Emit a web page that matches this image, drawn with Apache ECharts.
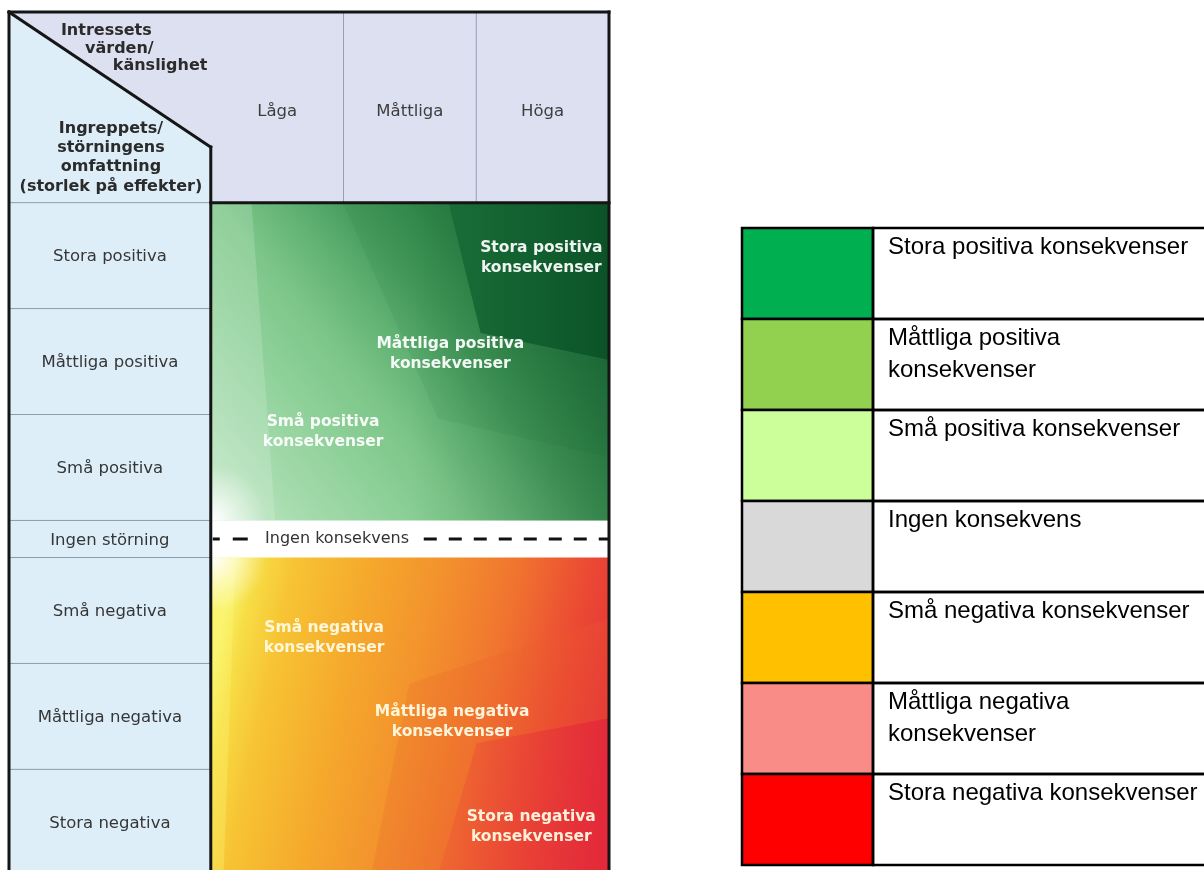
<!DOCTYPE html>
<html><head><meta charset="utf-8">
<script src="https://cdn.jsdelivr.net/npm/echarts/dist/echarts.min.js"></script>
<style>html,body{margin:0;padding:0;background:#fff}#c{width:1204px;height:870px}</style>
</head><body><div id="c"></div>
<script>
// ---- data ----
const columnLabels = ['Låga', 'Måttliga', 'Höga'];
const rowLabels = ['Stora positiva', 'Måttliga positiva', 'Små positiva', 'Ingen störning', 'Små negativa', 'Måttliga negativa', 'Stora negativa'];
const cornerTopLines = ['Intressets', 'värden/', 'känslighet'];
const cornerBottomLines = ['Ingreppets/', 'störningens', 'omfattning', '(storlek på effekter)'];
const zoneLabels = ['Stora positiva\nkonsekvenser', 'Måttliga positiva\nkonsekvenser', 'Små positiva\nkonsekvenser',
                    'Små negativa\nkonsekvenser', 'Måttliga negativa\nkonsekvenser', 'Stora negativa\nkonsekvenser'];
const neutralLabel = 'Ingen konsekvens';
const legendNames = ['Stora positiva konsekvenser', 'Måttliga positiva konsekvenser', 'Små positiva konsekvenser', 'Ingen konsekvens',
                     'Små negativa konsekvenser', 'Måttliga negativa konsekvenser', 'Stora negativa konsekvenser'];
const legendColors = ['#00b050', '#92d050', '#ccff99', '#d9d9d9', '#ffc000', '#f98c87', '#ff0000'];

// ---- layout (diagram units) ----
const LEFT = -1.52, HEADER = 1.8, INGEN = 0.35, YMAX = 8.1, DIAG = 1.275;
const zoneAnchors = [[2.49, 2.323], [1.805, 3.225], [0.846, 3.966], [0.854, 5.911], [1.818, 6.70], [2.414, 7.696]];
const cornerTopAnchors = [[-0.445, 0.18], [-0.43, 0.345], [-0.025, 0.51]];
const cornerBottomAnchors = [[-0.752, 1.105], [-0.752, 1.284], [-0.752, 1.464], [-0.752, 1.652]];
function rowTop(i) { return HEADER + (i <= 3 ? i : 3 + INGEN + (i - 4)); }
function rowBottom(i) { return rowTop(i) + (i === 3 ? INGEN : 1); }

const G = echarts.graphic;
const FONT = '"DejaVu Sans", Verdana, sans-serif';
const LFONT = '"Liberation Sans", Arial, sans-serif';

const mctx = document.createElement('canvas').getContext('2d');
function wrap(text, font, maxW) {
  mctx.font = font;
  const words = text.split(' ');
  const lines = []; let cur = '';
  words.forEach(w => {
    const t = cur ? cur + ' ' + w : w;
    if (cur && mctx.measureText(t).width > maxW) { lines.push(cur); cur = w; } else cur = t;
  });
  if (cur) lines.push(cur);
  return lines.join('\n');
}

function P(api, u, v) { return api.coord([u, v]); }

function renderBackground(params, api) {
  const a = P(api, LEFT, 0), b = P(api, 3, HEADER), d = P(api, 0, DIAG), e = P(api, 0, YMAX), f = P(api, LEFT, YMAX);
  return { type: 'group', children: [
    { type: 'rect', shape: { x: a[0], y: a[1], width: b[0] - a[0], height: b[1] - a[1] }, style: { fill: '#dde0f1' } },
    { type: 'polygon', shape: { points: [a, d, e, f] }, style: { fill: '#ddeef8' } }
  ]};
}

function renderPositive(params, api) {
  const a = P(api, 0, HEADER), b = P(api, 3, rowTop(3));
  const x0 = a[0] + 1, y0 = a[1], w = b[0] - x0, h = b[1] - y0;
  const F = (fx, fy) => [x0 + fx * w, y0 + fy * h];
  return { type: 'group', children: [
    { type: 'rect', shape: { x: x0, y: y0, width: w, height: h },
      style: { fill: new G.LinearGradient(0, 1, 1, 0, [
        { offset: 0, color: '#c4e8c8' }, { offset: 0.15, color: '#a5dbad' }, { offset: 0.3, color: '#8ccf97' },
        { offset: 0.4, color: '#7cc688' }, { offset: 0.5, color: '#62b374' }, { offset: 0.6, color: '#469c5c' },
        { offset: 0.7, color: '#33894b' }, { offset: 0.82, color: '#22753e' }, { offset: 1, color: '#135f2f' }]) } },
    { type: 'rect', shape: { x: x0, y: y0, width: w, height: h },
      style: { fill: new G.LinearGradient(0, 0, 1, 0, [
        { offset: 0, color: 'rgba(10,70,35,0)' }, { offset: 0.5, color: 'rgba(10,70,35,0)' },
        { offset: 1, color: 'rgba(10,70,35,0.28)' }]) } },
    { type: 'polygon', shape: { points: [F(0.33, 0), F(0.6, 0), F(0.68, 0.41), F(1, 0.5), F(1, 0.8), F(0.57, 0.68)] },
      style: { fill: 'rgba(15,80,40,0.07)' } },
    { type: 'polygon', shape: { points: [F(0.596, 0), F(0.677, 0.41), F(1, 0.495), F(1, 0)] },
      style: { fill: new G.LinearGradient(0, 0, 1, 0, [{ offset: 0, color: '#196d37' }, { offset: 1, color: '#0b5327' }]) } },
    { type: 'polygon', shape: { points: [F(0, 0), F(0.1, 0), F(0.16, 1), F(0, 1)] }, style: { fill: 'rgba(255,255,255,0.16)' } },
    { type: 'rect', shape: { x: x0, y: y0, width: w, height: h },
      style: { fill: new G.RadialGradient(x0, y0 + h, 55, [
        { offset: 0, color: 'rgba(255,255,255,1)' }, { offset: 0.45, color: 'rgba(255,255,255,0.5)' },
        { offset: 1, color: 'rgba(255,255,255,0)' }], true) } }
  ]};
}

function renderNegative(params, api) {
  const a = P(api, 0, rowTop(4)), b = P(api, 3, YMAX);
  const x0 = a[0] + 1, y0 = a[1], w = b[0] - x0, h = b[1] - y0;
  const F = (fx, fy) => [x0 + fx * w, y0 + fy * h];
  return { type: 'group', children: [
    { type: 'rect', shape: { x: x0, y: y0, width: w, height: h },
      style: { fill: new G.LinearGradient(0, 0.36, 1, 0.64, [
        { offset: 0, color: '#f8f36c' }, { offset: 0.05, color: '#f7de46' }, { offset: 0.14, color: '#f7c434' },
        { offset: 0.32, color: '#f5a92c' }, { offset: 0.5, color: '#f3922d' }, { offset: 0.68, color: '#f0742f' },
        { offset: 0.85, color: '#eb4a33' }, { offset: 1, color: '#e5303a' }]) } },
    { type: 'polygon', shape: { points: [F(0.497, 0.403), F(1, 0.195), F(1, 0.514), F(0.667, 0.594), F(0.573, 1), F(0.404, 1)] },
      style: { fill: 'rgba(236,95,45,0.2)' } },
    { type: 'polygon', shape: { points: [F(0.667, 0.594), F(1, 0.514), F(1, 1), F(0.573, 1)] },
      style: { fill: new G.LinearGradient(0, 0, 1, 0, [{ offset: 0, color: 'rgba(236,80,52,0.4)' }, { offset: 1, color: 'rgba(226,38,58,0.75)' }]) } },
    { type: 'polygon', shape: { points: [F(0, 0), F(0.06, 0), F(0.03, 1), F(0, 1)] }, style: { fill: 'rgba(255,250,120,0.3)' } },
    { type: 'rect', shape: { x: x0, y: y0, width: w, height: h },
      style: { fill: new G.RadialGradient(x0, y0, 55, [
        { offset: 0, color: 'rgba(255,255,255,1)' }, { offset: 0.5, color: 'rgba(255,255,255,0.45)' },
        { offset: 1, color: 'rgba(255,255,255,0)' }], true) } }
  ]};
}

function renderColumn(params, api) {
  const i = params.dataIndex;
  const children = [];
  if (i > 0) {
    const p0 = P(api, i, 0), p1 = P(api, i, HEADER);
    children.push({ type: 'line', shape: { x1: p0[0], y1: p0[1], x2: p1[0], y2: p1[1] }, style: { stroke: '#9b9db2', lineWidth: 1 } });
  }
  const c = P(api, i + 0.5, 0.94);
  children.push({ type: 'text', style: { text: columnLabels[i], x: c[0], y: c[1], align: 'center', verticalAlign: 'middle',
    font: '16.5px ' + FONT, fill: '#3d3d3d' } });
  return { type: 'group', children };
}

function renderRow(params, api) {
  const i = params.dataIndex;
  const p0 = P(api, LEFT, rowTop(i)), p1 = P(api, 0, rowTop(i));
  const c = P(api, LEFT / 2, (rowTop(i) + rowBottom(i)) / 2 + 0.015);
  return { type: 'group', children: [
    { type: 'line', shape: { x1: p0[0], y1: p0[1], x2: p1[0], y2: p1[1] }, style: { stroke: '#8e9caa', lineWidth: 1 } },
    { type: 'text', style: { text: rowLabels[i], x: c[0], y: c[1], align: 'center', verticalAlign: 'middle',
      font: '16.5px ' + FONT, fill: '#363636' } }
  ]};
}

function renderCorner(params, api) {
  const children = [];
  cornerTopLines.forEach((t, k) => {
    const p = P(api, cornerTopAnchors[k][0], cornerTopAnchors[k][1]);
    children.push({ type: 'text', style: { text: t, x: p[0], y: p[1], align: 'right', verticalAlign: 'middle',
      font: 'bold 16px ' + FONT, fill: '#2b2b2b' } });
  });
  cornerBottomLines.forEach((t, k) => {
    const p = P(api, cornerBottomAnchors[k][0], cornerBottomAnchors[k][1]);
    children.push({ type: 'text', style: { text: t, x: p[0], y: p[1], align: 'center', verticalAlign: 'middle',
      font: 'bold 16px ' + FONT, fill: '#2b2b2b' } });
  });
  return { type: 'group', children };
}

function renderZone(params, api) {
  const i = params.dataIndex;
  const p = P(api, zoneAnchors[i][0], zoneAnchors[i][1]);
  return { type: 'text', style: { text: zoneLabels[i], x: p[0], y: p[1], align: 'center', verticalAlign: 'middle',
    font: 'bold 15.5px ' + FONT, lineHeight: 20, fill: i < 3 ? 'rgba(255,255,255,0.93)' : 'rgba(255,250,225,0.95)' } };
}

function renderNeutral(params, api) {
  const y = (rowTop(3) + rowBottom(3)) / 2;
  const a = P(api, 0, y), b = P(api, 3, y);
  const tx = P(api, 0.409, y);
  return { type: 'group', children: [
    { type: 'line', shape: { x1: a[0] + 2, y1: a[1], x2: a[0] + 38, y2: a[1] },
      style: { stroke: '#111', lineWidth: 3, lineDash: [15, 13], lineDashOffset: 8 } },
    { type: 'line', shape: { x1: a[0] + 213, y1: a[1], x2: b[0], y2: b[1] },
      style: { stroke: '#111', lineWidth: 3, lineDash: [13, 12] } },
    { type: 'text', style: { text: neutralLabel, x: tx[0], y: tx[1], align: 'left', verticalAlign: 'middle',
      font: '16px ' + FONT, fill: '#333' } }
  ]};
}

function renderFrame(params, api) {
  const segs = [
    [[LEFT, 0], [LEFT, YMAX]], [[LEFT, 0], [3, 0]], [[3, 0], [3, YMAX]],
    [[LEFT, 0], [0, DIAG]], [[0, DIAG], [0, YMAX]], [[0, HEADER], [3, HEADER]]
  ];
  return { type: 'group', children: segs.map(s => {
    const p0 = P(api, s[0][0], s[0][1]), p1 = P(api, s[1][0], s[1][1]);
    return { type: 'line', shape: { x1: p0[0], y1: p0[1], x2: p1[0], y2: p1[1] }, style: { stroke: '#151515', lineWidth: 3, lineCap: 'square' } };
  })};
}

function renderLegend(params, api) {
  const i = params.dataIndex;
  const c = api.coord([0, i]);
  const h = api.size([0, 1])[1];
  const top = c[1] - h / 2, x0 = c[0];
  const cw = 131;
  const font = '24px ' + LFONT;
  return { type: 'group', children: [
    { type: 'rect', shape: { x: x0, y: top, width: cw, height: h }, style: { fill: legendColors[i], stroke: '#000', lineWidth: 2.5 } },
    { type: 'rect', shape: { x: x0 + cw, y: top, width: 600, height: h }, style: { fill: 'none', stroke: '#000', lineWidth: 2.5 } },
    { type: 'text', style: { text: wrap(legendNames[i], font, 318), x: x0 + cw + 15, y: top + 3, align: 'left', verticalAlign: 'top',
      font: font, lineHeight: 32, fill: '#000' } }
  ]};
}

const chart = echarts.init(document.getElementById('c'), null, { renderer: 'canvas' });
const base = { type: 'custom', clip: false, silent: true, xAxisIndex: 0, yAxisIndex: 0 };
chart.setOption({
  animation: false,
  backgroundColor: '#fff',
  grid: [{ left: 9, top: 12, width: 600, height: 858 }, { left: 742, top: 228, width: 480, height: 637 }],
  xAxis: [{ type: 'value', min: LEFT, max: 3, show: false, gridIndex: 0 }, { type: 'value', min: 0, max: 1, show: false, gridIndex: 1 }],
  yAxis: [{ type: 'value', min: 0, max: YMAX, inverse: true, show: false, gridIndex: 0 },
          { type: 'category', data: legendNames, inverse: true, show: false, gridIndex: 1 }],
  series: [
    Object.assign({}, base, { name: 'bakgrund', data: [[0, 0]], renderItem: renderBackground }),
    Object.assign({}, base, { name: 'positiva', data: [[0, 0]], renderItem: renderPositive }),
    Object.assign({}, base, { name: 'negativa', data: [[0, 0]], renderItem: renderNegative }),
    Object.assign({}, base, { name: 'kolumner', data: columnLabels.map((c, i) => [i, 0]), renderItem: renderColumn }),
    Object.assign({}, base, { name: 'rader', data: rowLabels.map((r, i) => [0, i]), renderItem: renderRow }),
    Object.assign({}, base, { name: 'hörn', data: [[0, 0]], renderItem: renderCorner }),
    Object.assign({}, base, { name: 'zoner', data: zoneLabels.map((z, i) => [0, i]), renderItem: renderZone }),
    Object.assign({}, base, { name: 'neutral', data: [[0, 0]], renderItem: renderNeutral }),
    Object.assign({}, base, { name: 'ram', data: [[0, 0]], renderItem: renderFrame }),
    Object.assign({}, base, { name: 'legend', xAxisIndex: 1, yAxisIndex: 1, data: legendNames.map((n, i) => [0, i]), renderItem: renderLegend })
  ]
});
</script></body></html>
